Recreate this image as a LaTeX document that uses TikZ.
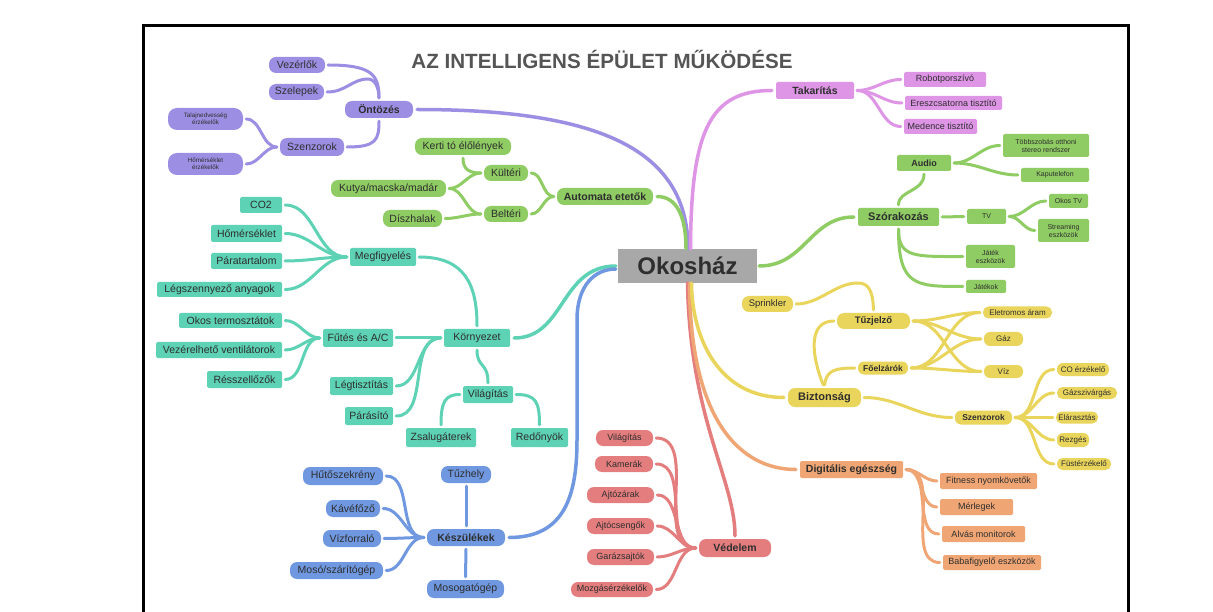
\documentclass[tikz,border=0pt]{standalone}
\usepackage{fontspec}
\setmainfont{Liberation Sans}
\usetikzlibrary{calc}
\definecolor{cPur}{HTML}{9C8FE3}
\definecolor{cPnk}{HTML}{DE95E6}
\definecolor{cGrn}{HTML}{8FCC63}
\definecolor{cTea}{HTML}{5DD2B5}
\definecolor{cBlu}{HTML}{6F98E0}
\definecolor{cRed}{HTML}{E47D7D}
\definecolor{cOrn}{HTML}{F0A674}
\definecolor{cYel}{HTML}{EAD55C}
\definecolor{cGry}{HTML}{A8A8A8}
\definecolor{cTxt}{HTML}{2E2E2E}
\definecolor{cTit}{HTML}{555555}
\tikzset{
 nb/.style={inner sep=1pt, text=cTxt, align=center},
 pill/.style={nb, rounded corners=7pt},
 rbox/.style={nb, rounded corners=1.5pt},
 wh/.style 2 args={minimum width=#1pt, minimum height=#2pt},
 fa/.style={font=\fontsize{6.3}{7}\selectfont},
 fb/.style={font=\fontsize{7}{8}\selectfont},
 fc/.style={font=\fontsize{8}{9}\selectfont},
 fcb/.style={font=\bfseries\fontsize{8.5}{10}\selectfont},
 fd/.style={font=\fontsize{9}{10}\selectfont},
 fdb/.style={font=\bfseries\fontsize{9}{10}\selectfont},
 fe/.style={font=\fontsize{9.5}{11}\selectfont},
 feb/.style={font=\bfseries\fontsize{9.5}{11}\selectfont},
 ff/.style={font=\fontsize{10.5}{12}\selectfont},
 ffb/.style={font=\bfseries\fontsize{10.5}{12}\selectfont},
 fgb/.style={font=\bfseries\fontsize{11}{13}\selectfont},
 sub/.style={line width=3pt, line cap=round, shorten <=3pt, shorten >=3pt},
 mainl/.style={line width=3.5pt, line cap=round},
}
\begin{document}
\begin{tikzpicture}[x=1pt,y=-1pt]
\useasboundingbox (0,0) rectangle (1213,612);
\clip (0,0) rectangle (1213,612);
\fill[white] (0,0) rectangle (1213,612);
\draw[line width=2.5pt] (143.5,640) -- (143.5,25.5) -- (1128.5,25.5) -- (1128.5,640);

\node[text=cTit, font=\bfseries\fontsize{20.6}{24}\selectfont, inner sep=0pt] (title) at (602,59) {AZ INTELLIGENS ÉPÜLET MŰKÖDÉSE};

\node[nb, fill=cGry, wh={139}{34}, font=\bfseries\fontsize{24}{28}\selectfont] (oko) at (687.5,266) {Okosház};

% purple
\node[pill, fill=cPur, ff, wh={56}{16}] (vez) at (297,65) {Vezérlők};
\node[pill, fill=cPur, ff, wh={55}{16}] (szel) at (296.5,92) {Szelepek};
\node[pill, fill=cPur, ffb, wh={68}{17}] (ont) at (379,109.5) {Öntözés};
\node[pill, fill=cPur, ff, wh={64}{18}] (szen) at (312,147) {Szenzorok};
\node[pill, fill=cPur, fa, wh={75}{22}, rounded corners=9pt] (talaj) at (205.5,119) {Talajnedvesség\\érzékelők};
\node[pill, fill=cPur, fa, wh={75}{22}, rounded corners=9pt] (homer) at (205.5,164) {Hőmérséklet\\érzékelők};

% green left
\node[pill, fill=cGrn, ffb, wh={96}{17}] (aut) at (605,196.5) {Automata etetők};
\node[pill, fill=cGrn, ff, wh={44}{16}] (kul) at (506,173) {Kültéri};
\node[pill, fill=cGrn, ff, wh={44}{16}] (bel) at (506,214) {Beltéri};
\node[pill, fill=cGrn, ff, wh={96}{17}] (kerti) at (463,146.5) {Kerti tó élőlények};
\node[pill, fill=cGrn, ff, wh={115}{17}] (kutya) at (388.5,188.5) {Kutya/macska/madár};
\node[pill, fill=cGrn, ff, wh={59}{17}] (disz) at (412.5,218.5) {Díszhalak};

% teal
\node[rbox, fill=cTea, ff, wh={66}{18}] (megf) at (383,257) {Megfigyelés};
\node[rbox, fill=cTea, ff, wh={42}{16}] (co2) at (261,205) {CO2};
\node[rbox, fill=cTea, ff, wh={71}{17}] (hom) at (246.5,233.5) {Hőmérséklet};
\node[rbox, fill=cTea, ff, wh={71}{16}] (para) at (246.5,261) {Páratartalom};
\node[rbox, fill=cTea, ff, wh={125}{15}] (legsz) at (219.5,289.5) {Légszennyező anyagok};
\node[rbox, fill=cTea, ff, wh={103}{15}] (okost) at (230.5,320.5) {Okos termosztátok};
\node[rbox, fill=cTea, ff, wh={126}{16}] (vent) at (219,350) {Vezérelhető ventilátorok};
\node[rbox, fill=cTea, ff, wh={75}{17}] (ressz) at (244.5,379.5) {Résszellőzők};
\node[rbox, fill=cTea, ff, wh={70}{18}] (futes) at (358,338) {Fűtés és A/C};
\node[rbox, fill=cTea, ff, wh={66}{18}] (korny) at (477,338) {Környezet};
\node[rbox, fill=cTea, ff, wh={63}{18}] (legt) at (361.5,386) {Légtisztítás};
\node[rbox, fill=cTea, ff, wh={48}{18}] (paras) at (369,416) {Párásító};
\node[rbox, fill=cTea, ff, wh={50}{17}] (vilt) at (488,394.5) {Világítás};
\node[rbox, fill=cTea, ff, wh={70}{19}] (zsal) at (441,437.5) {Zsalugáterek};
\node[rbox, fill=cTea, ff, wh={57}{19}] (redo) at (539.5,437.5) {Redőnyök};

% blue
\node[pill, fill=cBlu, ffb, wh={78}{17}] (kesz) at (466,537.5) {Készülékek};
\node[pill, fill=cBlu, ff, wh={50}{17}] (tuzh) at (466,474.5) {Tűzhely};
\node[pill, fill=cBlu, ff, wh={77}{18}] (mosog) at (465.5,589) {Mosogatógép};
\node[pill, fill=cBlu, ff, wh={80}{18}] (huto) at (343,476) {Hűtőszekrény};
\node[pill, fill=cBlu, ff, wh={54}{17}] (kave) at (353,508.5) {Kávéfőző};
\node[pill, fill=cBlu, ff, wh={58}{17}] (vizf) at (352,538.5) {Vízforraló};
\node[pill, fill=cBlu, ff, wh={93}{17}] (moso) at (336.5,570.5) {Mosó/szárítógép};

% red
\node[pill, fill=cRed, ffb, wh={72}{18}] (ved) at (735,548) {Védelem};
\node[pill, fill=cRed, fd, wh={57}{16}] (rvil) at (624.5,438) {Világítás};
\node[pill, fill=cRed, fd, wh={58}{16}] (kam) at (624,464) {Kamerák};
\node[pill, fill=cRed, fd, wh={67}{16}] (ajtz) at (620.5,495) {Ajtózárak};
\node[pill, fill=cRed, fd, wh={67}{16}] (ajtcs) at (620.5,526) {Ajtócsengők};
\node[pill, fill=cRed, fd, wh={67}{16}] (gar) at (620.5,557) {Garázsajtók};
\node[pill, fill=cRed, fd, wh={82}{15}] (mozg) at (612,589.5) {Mozgásérzékelők};

% orange
\node[rbox, fill=cOrn, ffb, wh={103}{17}] (dig) at (851.5,469.5) {Digitális egészség};
\node[rbox, fill=cOrn, fd, wh={97}{16}] (fit) at (988.5,481) {Fitness nyomkövetők};
\node[rbox, fill=cOrn, fd, wh={73}{16}] (merl) at (976.5,507) {Mérlegek};
\node[rbox, fill=cOrn, fd, wh={83}{16}] (alv) at (983.5,534) {Alvás monitorok};
\node[rbox, fill=cOrn, fd, wh={98}{15}] (baba) at (992,562.5) {Babafigyelő eszközök};

% yellow
\node[pill, fill=cYel, fgb, wh={73}{19}] (bizt) at (824.5,397.5) {Biztonság};
\node[pill, fill=cYel, feb, wh={73}{16}] (tuzj) at (873.5,321) {Tűzjelző};
\node[pill, fill=cYel, fcb, wh={50}{13}, rounded corners=6pt] (foel) at (883,368) {Főelzárók};
\node[pill, fill=cYel, fe, wh={51}{16}] (sprink) at (767.5,304) {Sprinkler};
\node[pill, fill=cYel, fcb, wh={57}{14}, rounded corners=6pt] (ysz) at (983.5,417.5) {Szenzorok};
\node[pill, fill=cYel, fc, wh={69}{12}, rounded corners=5.5pt] (elet) at (1017.5,312.5) {Eletromos áram};
\node[pill, fill=cYel, fc, wh={39}{14}, rounded corners=6pt] (gaz) at (1003.5,339) {Gáz};
\node[pill, fill=cYel, fc, wh={39}{13}, rounded corners=6pt] (viz) at (1003.5,371.5) {Víz};
\node[pill, fill=cYel, fc, wh={52}{13}, rounded corners=6pt] (coe) at (1083,369.5) {CO érzékelő};
\node[pill, fill=cYel, fc, wh={60}{12}, rounded corners=5.5pt] (gazsz) at (1087,393) {Gázszivárgás};
\node[pill, fill=cYel, fc, wh={42}{12}, rounded corners=5.5pt] (elar) at (1077,417.5) {Elárasztás};
\node[pill, fill=cYel, fc, wh={32}{14}, rounded corners=6pt] (rezg) at (1073,440) {Rezgés};
\node[pill, fill=cYel, fc, wh={54}{12}, rounded corners=5.5pt] (fust) at (1084,464) {Füstérzékelő};

% green right
\node[rbox, fill=cGrn, fgb, wh={81}{18}] (szor) at (898.5,217) {Szórakozás};
\node[rbox, fill=cGrn, fdb, wh={54}{16}] (audio) at (924,163) {Audio};
\node[rbox, fill=cGrn, fb, wh={86}{23}] (tobb) at (1046,145.5) {Többszobás otthoni\\stereo rendszer};
\node[rbox, fill=cGrn, fb, wh={68}{14}] (kapu) at (1055,175) {Kaputelefon};
\node[rbox, fill=cGrn, fb, wh={39}{15}] (tv) at (986.5,216.5) {TV};
\node[rbox, fill=cGrn, fb, wh={39}{14}] (okostv) at (1068.5,201) {Okos TV};
\node[rbox, fill=cGrn, fb, wh={51}{23}] (stream) at (1063.5,230.5) {Streaming\\eszközök};
\node[rbox, fill=cGrn, fb, wh={49}{23}] (jatesz) at (990.5,256.5) {Játék\\eszközök};
\node[rbox, fill=cGrn, fb, wh={40}{13}] (jatek) at (986,286.5) {Játékok};

% pink
\node[rbox, fill=cPnk, ffb, wh={78}{17}] (tak) at (815,90.5) {Takarítás};
\node[rbox, fill=cPnk, fd, wh={82}{15}] (robot) at (945,79.5) {Robotporszívó};
\node[rbox, fill=cPnk, fd, wh={97}{14}] (eresz) at (953.5,103) {Ereszcsatorna tisztító};
\node[rbox, fill=cPnk, fd, wh={73}{15}] (med) at (940.5,126.5) {Medence tisztító};

% ---------- connectors ----------
% main
\draw[mainl, cPur, shorten <=4pt] (ont.east) .. controls (600,109.5) and (688,150) .. ($(oko.north)+(0.5,0)$);
\draw[mainl, cGrn, shorten <=4pt] (aut.east) .. controls (676,196.5) and (686,215) .. ($(oko.north)+(-1.5,0)$);
\draw[mainl, cPnk, shorten >=4pt] ($(oko.north)+(3,0)$) .. controls (691,130) and (710,90.5) .. (tak.west);
\draw[mainl, cTea, shorten <=4pt, shorten >=2pt] (korny.east) .. controls (565,338) and (560,266) .. (oko.west);
\draw[mainl, cBlu, shorten <=4pt, shorten >=2pt] (kesz.east) .. controls (565,537.5) and (577,495) .. (577,440) -- (577,320) .. controls (577,285) and (595,269) .. ($(oko.west)+(0,3)$);
\draw[mainl, cGrn, shorten <=2pt, shorten >=4pt] (oko.east) .. controls (805,266) and (810,217) .. (szor.west);
\draw[mainl, cRed, shorten >=3pt] (oko.south) .. controls (690,420) and (735,480) .. (ved.north);
\draw[mainl, cOrn, shorten >=4pt] ($(oko.south)+(2,0)$) .. controls (690,420) and (740,469.5) .. (dig.west);
\draw[mainl, cYel, shorten >=4pt] ($(oko.south)+(4,0)$) .. controls (692,340) and (720,397.5) .. (bizt.west);

% purple
\draw[sub, cPur] (vez.east) .. controls (372,65) and (379,75) .. (ont.north);
\draw[sub, cPur] (szel.east) .. controls (346,92) and (352,79) .. (368,79) .. controls (375,79) and (379,88) .. (ont.north);
\draw[sub, cPur] (szen.east) .. controls (376,147) and (379,140) .. (ont.south);
\draw[sub, cPur] (talaj.east) to[out=0,in=180] (szen.west);
\draw[sub, cPur] (homer.east) to[out=0,in=180] (szen.west);

% green left
\foreach \a in {kul,bel} \draw[sub, cGrn] (\a.east) to[out=0,in=180] (aut.west);
\draw[sub, cGrn] (kutya.east) to[out=0,in=180] (kul.west);
\draw[sub, cGrn] (kutya.east) to[out=0,in=180] (bel.west);
\draw[sub, cGrn] (disz.east) to[out=0,in=180] (bel.west);
\draw[sub, cGrn] (kerti.south) .. controls (463,170) and (470,173) .. (kul.west);

% teal
\foreach \a in {co2,hom,para,legsz} \draw[sub, cTea] (\a.east) to[out=0,in=180] (megf.west);
\foreach \a in {okost,vent,ressz} \draw[sub, cTea] (\a.east) to[out=0,in=180] (futes.west);
\draw[sub, cTea] (megf.east) .. controls (465,257) and (477,285) .. (korny.north);
\draw[sub, cTea] (futes.east) -- (korny.west);
\foreach \a in {legt,paras} \draw[sub, cTea] (\a.east) to[out=0,in=180] (korny.west);
\draw[sub, cTea] (korny.south) .. controls (477,368) and (488,362) .. (vilt.north);
\draw[sub, cTea] (vilt.west) .. controls (445,394.5) and (441,402) .. (zsal.north);
\draw[sub, cTea] (vilt.east) .. controls (536,394.5) and (539.5,402) .. (redo.north);

% blue
\foreach \a in {huto,kave,vizf,moso} \draw[sub, cBlu] (\a.east) to[out=0,in=180] (kesz.west);
\draw[sub, cBlu] (kesz.north) -- (tuzh.south);
\draw[sub, cBlu] (kesz.south) -- (mosog.north);

% red
\foreach \a in {rvil,kam,ajtz,ajtcs,gar,mozg} \draw[sub, cRed] (\a.east) to[out=0,in=180] (ved.west);

% orange
\foreach \a in {fit,merl,alv,baba} \draw[sub, cOrn] (dig.east) to[out=0,in=180] (\a.west);

% yellow
\draw[sub, cYel] (bizt.north) .. controls (811,355) and (808,321) .. (tuzj.west);
\draw[sub, cYel] (bizt.north) .. controls (826,370) and (836,368) .. (foel.west);
\draw[sub, cYel] (tuzj.north) .. controls (873,290) and (868,283) .. (858,283) .. controls (835,283) and (820,304) .. (sprink.east);
\foreach \a in {elet,gaz,viz} {
  \draw[sub, cYel] (tuzj.east) to[out=0,in=180] (\a.west);
  \draw[sub, cYel] (foel.east) to[out=0,in=180] (\a.west);
}
\draw[sub, cYel] (bizt.east) to[out=0,in=180] (ysz.west);
\foreach \a in {coe,gazsz,elar,rezg,fust} \draw[sub, cYel] (ysz.east) to[out=0,in=180] (\a.west);

% green right
\draw[sub, cGrn] (szor.north) .. controls (898.5,190) and (924,192) .. (audio.south);
\draw[sub, cGrn] (szor.east) -- (tv.west);
\foreach \a in {okostv,stream} \draw[sub, cGrn] (tv.east) to[out=0,in=180] (\a.west);
\foreach \a in {tobb,kapu} \draw[sub, cGrn] (audio.east) to[out=0,in=180] (\a.west);
\draw[sub, cGrn] (szor.south) .. controls (898.5,258) and (915,256.5) .. (jatesz.west);
\draw[sub, cGrn] (szor.south) .. controls (898.5,286) and (915,286.5) .. (jatek.west);

% pink
\foreach \a in {robot,eresz,med} \draw[sub, cPnk] (tak.east) to[out=0,in=180] (\a.west);
\end{tikzpicture}
\end{document}
